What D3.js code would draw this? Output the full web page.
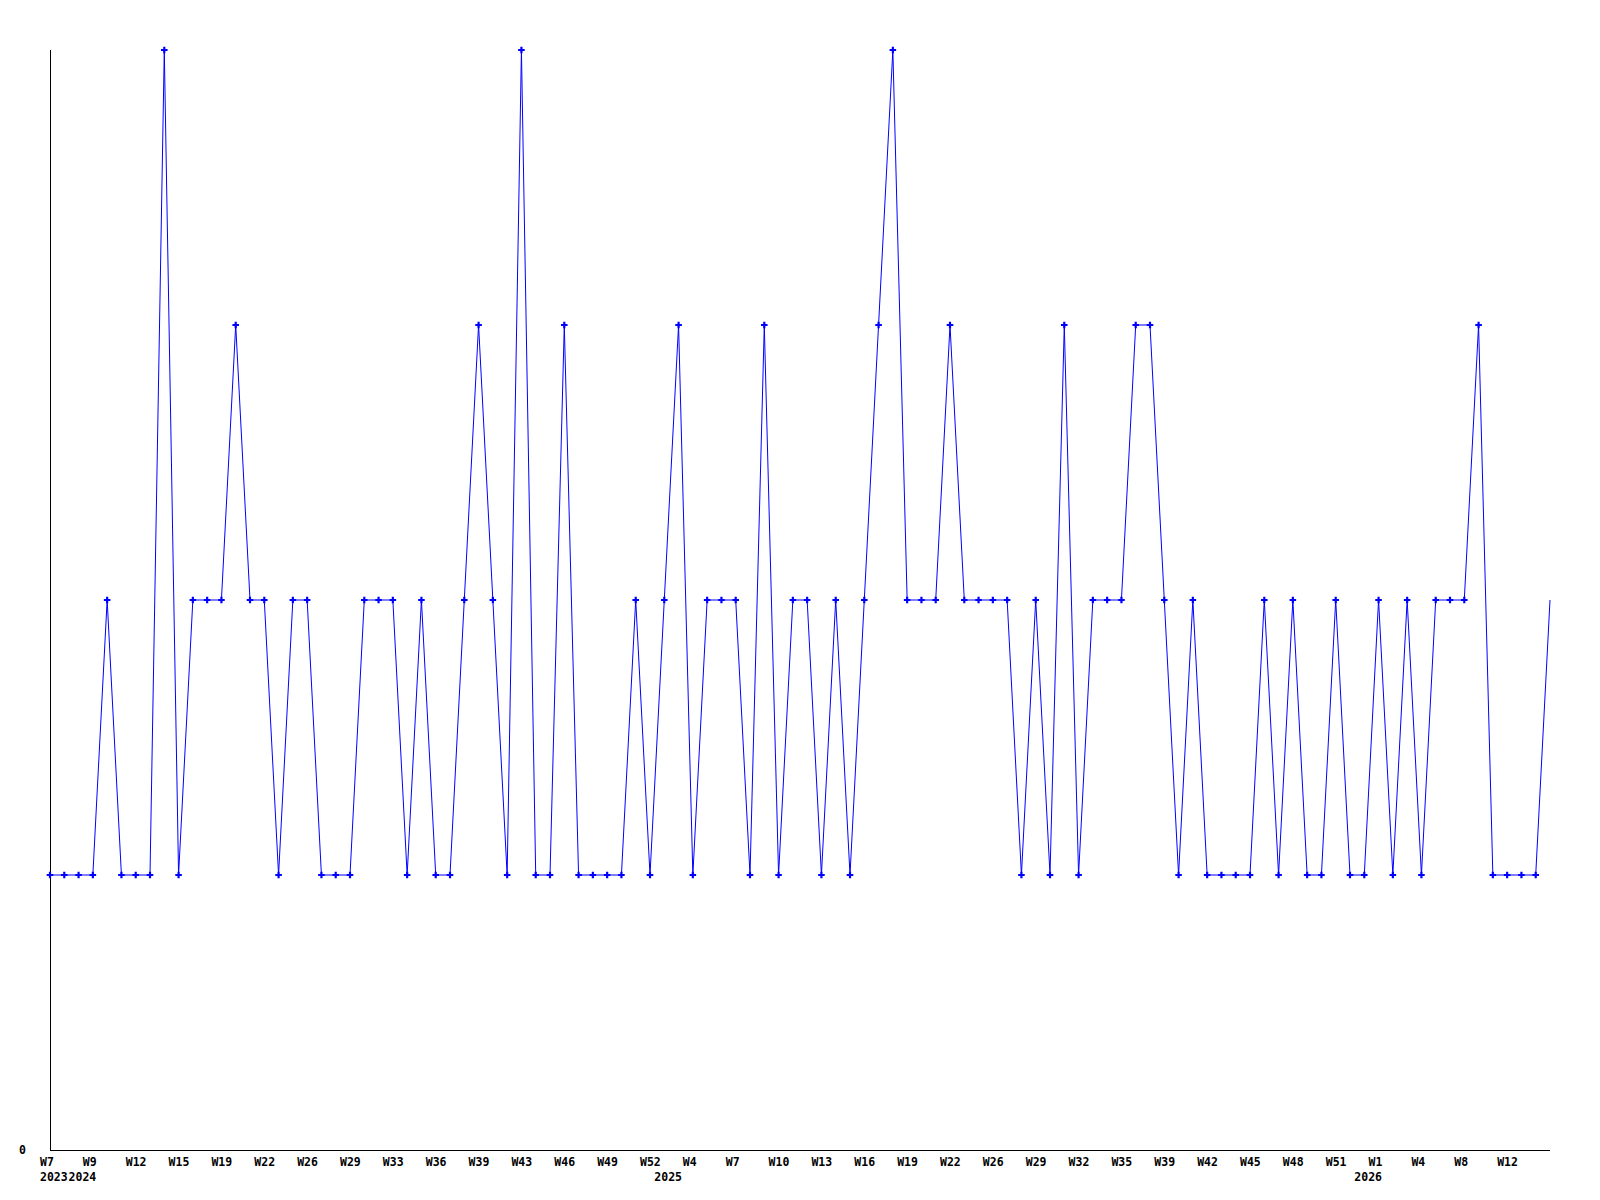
<!DOCTYPE html>
<html>
<head>
<meta charset="utf-8">
<script src="https://cdn.jsdelivr.net/npm/d3@7"></script>
<style>
  html, body { margin: 0; padding: 0; background: #ffffff; }
  svg { display: block; }
  text { font-family: "DejaVu Sans Mono", "Liberation Mono", monospace; font-weight: bold; font-size: 11.5px; fill: #000; }
</style>
</head>
<body>
<svg id="chart" width="1600" height="1200"></svg>
<script>
// Weekly counts (one value per category, 106 points)
const values = [
  1,1,1,1,2,1,1,1,4,1,
  2,2,2,3,2,2,1,2,2,1,
  1,1,2,2,2,1,2,1,1,2,
  3,2,1,4,1,1,3,1,1,1,
  1,2,1,2,3,1,2,2,2,1,
  3,1,2,2,1,2,1,2,3,4,
  2,2,2,3,2,2,2,2,1,2,
  1,3,1,2,2,2,3,3,2,1,
  2,1,1,1,1,2,1,2,1,1,
  2,1,1,2,1,2,1,2,2,2,
  3,1,1,1,1,2
];
// Tick labels shown on every third category
const tickLabels = ["W7","W9","W12","W15","W19","W22","W26","W29","W33","W36","W39","W43",
  "W46","W49","W52","W4","W7","W10","W13","W16","W19","W22","W26","W29","W32","W35",
  "W39","W42","W45","W48","W51","W1","W4","W8","W12"];
const tickEvery = 3;
// Year labels and the category index where each year starts
const yearLabels = ["2023","2024","2025","2026"];
const yearStart = [0, 2, 43, 92];
const yTicks = [0];

const svg = d3.select("#chart");
const mLeft = 50, mRight = 1550, mTop = 50, mBottom = 1150;

const x = d3.scaleLinear().domain([0, values.length - 1]).range([mLeft, mRight]);
const y = d3.scaleLinear().domain([0, 4]).range([mBottom, mTop]);

// axes
svg.append("line").attr("x1", mLeft + 0.5).attr("x2", mLeft + 0.5).attr("y1", mTop).attr("y2", mBottom)
  .attr("stroke", "#000").attr("stroke-width", 1).attr("shape-rendering", "crispEdges");
svg.append("line").attr("x1", mLeft).attr("x2", mRight).attr("y1", mBottom + 0.5).attr("y2", mBottom + 0.5)
  .attr("stroke", "#000").attr("stroke-width", 1).attr("shape-rendering", "crispEdges");

// y label
svg.selectAll("text.ytick").data(yTicks).enter().append("text")
  .attr("class", "ytick")
  .attr("x", 26).attr("y", d => y(d) + 4)
  .attr("text-anchor", "end")
  .text(d => d);

// x tick labels
svg.selectAll("text.xtick").data(tickLabels).enter().append("text")
  .attr("class", "xtick")
  .attr("x", (d, i) => x(i * tickEvery) - 10)
  .attr("y", 1166)
  .text(d => d);

// year labels
svg.selectAll("text.year").data(yearLabels).enter().append("text")
  .attr("class", "year")
  .attr("x", (d, i) => x(yearStart[i]) - 10)
  .attr("y", 1181)
  .text(d => d);

// line
const line = d3.line().x((d, i) => x(i)).y(d => y(d));
svg.append("path").datum(values)
  .attr("d", line)
  .attr("fill", "none")
  .attr("stroke", "#0000ff")
  .attr("stroke-width", 1);

// markers (last, in-progress point has none)
const sym = d3.symbol().type(d3.symbolCross).size(24);
svg.selectAll("path.pt").data(values.slice(0, values.length - 1)).enter().append("path")
  .attr("class", "pt")
  .attr("d", sym)
  .attr("transform", (d, i) => `translate(${x(i)},${y(d)})`)
  .attr("fill", "#0000ff");
</script>
</body>
</html>
